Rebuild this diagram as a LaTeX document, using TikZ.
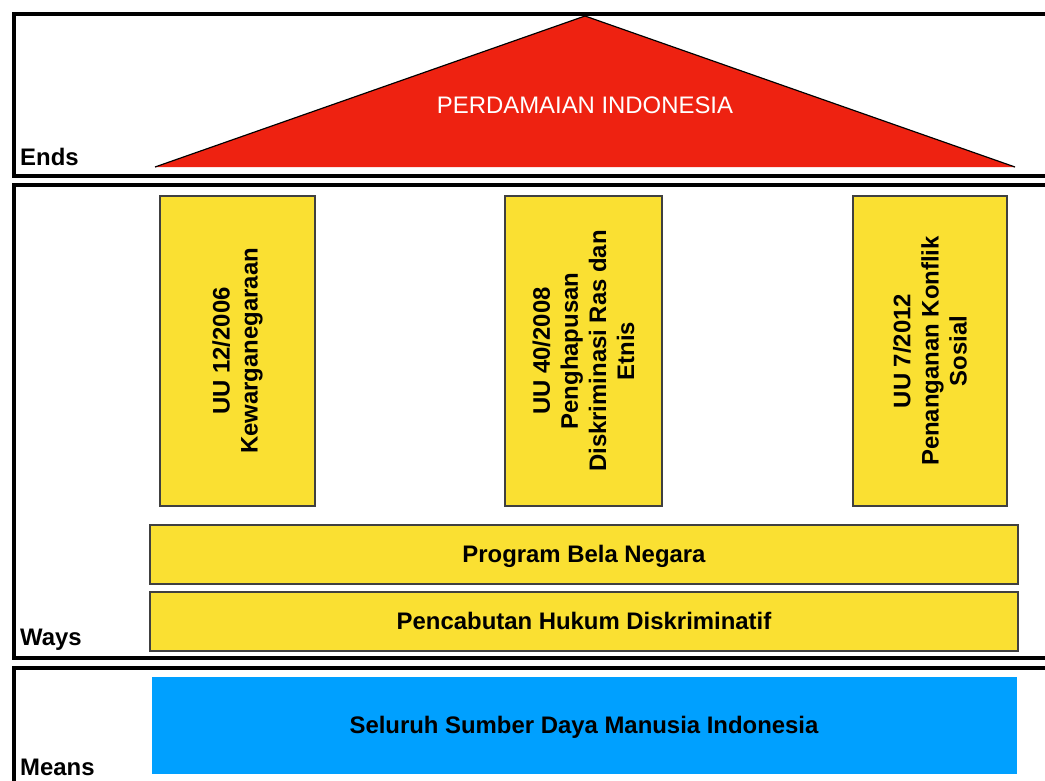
\documentclass[tikz,border=0pt]{standalone}
\usepackage{fontspec}
\setmainfont{Liberation Sans}
\definecolor{roofred}{HTML}{EE2211}
\definecolor{pillaryellow}{HTML}{FAE032}
\definecolor{baseblue}{HTML}{00A0FF}
\newcommand{\lblsize}{\fontsize{20.4}{24}\selectfont}
\begin{document}
\begin{tikzpicture}[x=0.03cm,y=-0.03cm,
  frame/.style={draw=black,line width=2.6pt},
  block/.style={draw=black!75,line width=1.1pt,fill=pillaryellow},
  txt/.style={font=\lblsize\bfseries,align=center,inner sep=0pt},
  side/.style={font=\lblsize\bfseries,anchor=base west,inner sep=0pt}]
\useasboundingbox (0,0) rectangle (1045,780);
\clip (0,0) rectangle (1045,780);
% the three bands
\draw[frame] (14,14) rectangle (1065,176);
\draw[frame] (14,185) rectangle (1065,658);
\draw[frame] (14,668) rectangle (1065,800);
\node[side] (ends) at (20,165) {Ends};
\node[side] (ways) at (20,645) {Ways};
\node[side] (means) at (20,775) {Means};
% roof
\coordinate (roofL) at (155,167);
\coordinate (apex) at (585,16);
\coordinate (roofR) at (1015,167);
\fill[roofred] (roofL) -- (apex) -- (roofR) -- cycle;
\draw[line width=1pt] (roofL) -- (apex) -- (roofR);
\node[txt,font=\lblsize,text=white,anchor=base] (peace) at (585,113) {PERDAMAIAN INDONESIA};
% pillars
\draw[block] (160,196) rectangle (315,506);
\node[txt,rotate=90] (uu12) at (237.5,351) {UU 12/2006\\Kewarganegaraan};
\draw[block] (505,196) rectangle (662,506);
\node[txt,rotate=90] (uu40) at (583.5,351) {UU 40/2008\\Penghapusan\\Diskriminasi Ras dan\\Etnis};
\draw[block] (853,196) rectangle (1007,506);
\node[txt,rotate=90] (uu7) at (930,351) {UU 7/2012\\Penanganan Konflik\\Sosial};
% floors
\draw[block] (150,525) rectangle (1018,584);
\node[txt,anchor=base] (bela) at (584,562) {Program Bela Negara};
\draw[block] (150,592) rectangle (1018,651);
\node[txt,anchor=base] (hukum) at (584,629) {Pencabutan Hukum Diskriminatif};
% base
\fill[baseblue] (152,677) rectangle (1017,774);
\node[txt,anchor=base] (sdm) at (584,733) {Seluruh Sumber Daya Manusia Indonesia};
\end{tikzpicture}
\end{document}
